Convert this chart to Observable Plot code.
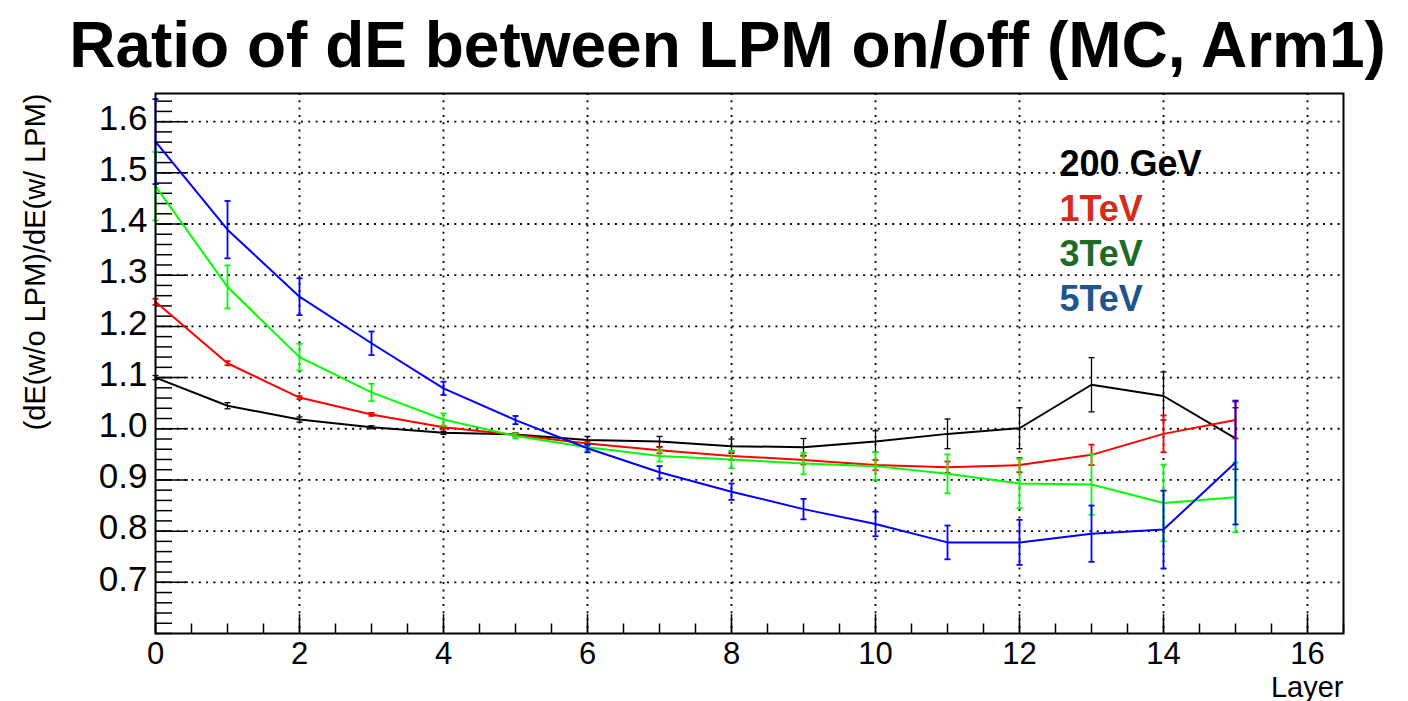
<!DOCTYPE html>
<html><head><meta charset="utf-8">
<script src="https://cdn.jsdelivr.net/npm/d3@7"></script>
<script src="https://cdn.jsdelivr.net/npm/@observablehq/plot@0.6"></script>
<style>
html,body{margin:0;padding:0;background:#fff;}
#chart svg{display:block;}
</style></head><body><div id="chart"></div>
<script>
// ---- data ----
const title = "Ratio of dE between LPM on/off (MC, Arm1)";
const yLabel = "(dE(w/o LPM)/dE(w/ LPM)";
const xLabel = "Layer";
const layers = [0,1,2,3,4,5,6,7,8,9,10,11,12,13,14,15];
const seriesNames = ["200 GeV","1TeV","3TeV","5TeV"];
const lineColors = ["#000000","#ff0000","#00ff00","#0000ff"];
const legendColors = ["#000000","#d42b1b","#1b6a25","#1d5591"];
const ratio200GeV = [1.100,1.045,1.018,1.003,0.992,0.989,0.978,0.975,0.966,0.964,0.975,0.990,1.001,1.086,1.064,0.981];
const err200GeV   = [0.004,0.006,0.005,0.003,0.003,0.003,0.007,0.010,0.014,0.017,0.021,0.029,0.040,0.053,0.047,0.060];
const ratio1TeV   = [1.248,1.128,1.061,1.028,1.003,0.988,0.971,0.958,0.947,0.939,0.929,0.925,0.929,0.949,0.990,1.017];
const err1TeV     = [0.006,0.004,0.003,0.003,0.003,0.003,0.004,0.006,0.008,0.009,0.010,0.011,0.014,0.020,0.036,0.036];
const ratio3TeV   = [1.474,1.277,1.140,1.071,1.018,0.986,0.964,0.947,0.940,0.932,0.927,0.912,0.893,0.891,0.855,0.866];
const err3TeV     = [0.067,0.042,0.026,0.017,0.012,0.005,0.006,0.011,0.017,0.021,0.027,0.038,0.048,0.059,0.075,0.068];
const ratio5TeV   = [1.561,1.389,1.258,1.167,1.079,1.017,0.962,0.915,0.877,0.843,0.814,0.778,0.778,0.795,0.803,0.934];
const err5TeV     = [0.083,0.056,0.036,0.023,0.013,0.008,0.008,0.012,0.016,0.020,0.024,0.033,0.044,0.055,0.076,0.121];
const xTicks = [0,2,4,6,8,10,12,14,16];
const yTicks = [0.7,0.8,0.9,1.0,1.1,1.2,1.3,1.4,1.5,1.6];
const xDomain = [0, 16.5];
const yDomain = [0.6, 1.655];

// ---- layout ----
const W = 1408, H = 701;
const mL = 155, mR = 65, mT = 93, mB = 68;
const frameW = W - mL - mR, frameH = H - mT - mB;
const font = "'Liberation Sans', Arial, Helvetica, sans-serif";

const ratios = [ratio200GeV, ratio1TeV, ratio3TeV, ratio5TeV];
const errs = [err200GeV, err1TeV, err3TeV, err5TeV];
const series = seriesNames.map((name, i) => layers.map((l, j) => ({
  name, layer: l, ratio: ratios[i][j], err: errs[i][j]
})));

const xMinor = d3.range(0, 16.5001, 0.5);
const yMinor = d3.range(0.6, 1.655, 0.02);

const capSymbol = {draw(ctx, size) { const r = Math.sqrt(size / Math.PI); ctx.moveTo(-r, 0); ctx.lineTo(r, 0); }};
const dotted = {stroke: "#000", strokeWidth: 1.8, strokeDasharray: "2,5.3"};

const seriesMarks = series.flatMap((data, i) => {
  const c = lineColors[i];
  const ew = i === 0 ? 1.3 : 1.8;
  return [
    Plot.line(data, {x: "layer", y: "ratio", stroke: c, strokeWidth: 2}),
    Plot.ruleX(data, {x: "layer", y1: d => d.ratio - d.err, y2: d => d.ratio + d.err, stroke: c, strokeWidth: ew}),
    Plot.dot(data, {x: "layer", y: d => d.ratio - d.err, symbol: capSymbol, r: 3, stroke: c, strokeWidth: ew}),
    Plot.dot(data, {x: "layer", y: d => d.ratio + d.err, symbol: capSymbol, r: 3, stroke: c, strokeWidth: ew})
  ];
});

const legendMarks = seriesNames.map((name, i) =>
  Plot.text([name], {text: d => d, frameAnchor: "top-left", dx: 904, dy: 82 + 45 * i,
    textAnchor: "start", lineAnchor: "bottom", fill: legendColors[i], fontSize: 36, fontWeight: "bold"}));

const chart = Plot.plot({
  width: W, height: H,
  marginLeft: mL, marginRight: mR, marginTop: mT, marginBottom: mB,
  style: {fontFamily: font, background: "#fff", color: "#000", overflow: "visible"},
  x: {domain: xDomain, axis: null},
  y: {domain: yDomain, axis: null},
  marks: [
    Plot.ruleX(xTicks.filter(d => d > 0), dotted),
    Plot.ruleY(yTicks, dotted),
    Plot.ruleY(yMinor, {stroke: "#000", strokeWidth: 1.5, insetRight: frameW - 17}),
    Plot.ruleY(yTicks, {stroke: "#000", strokeWidth: 1.5, insetRight: frameW - 33}),
    Plot.ruleX(xMinor, {stroke: "#000", strokeWidth: 1.5, insetTop: frameH - 9.5}),
    Plot.ruleX(xTicks, {stroke: "#000", strokeWidth: 1.5, insetTop: frameH - 19}),
    ...seriesMarks,
    Plot.frame({stroke: "#000", strokeWidth: 2}),
    Plot.axisX(xTicks, {tickSize: 0, tickPadding: 8, fontSize: 31, label: null, tickFormat: d => String(d)}),
    Plot.axisY(yTicks, {tickSize: 0, tickPadding: 8, fontSize: 35, label: null, dy: -3, tickFormat: d3.format(".1f")}),
    Plot.text([title], {text: d => d, frameAnchor: "top", dx: -22, dy: -27, lineAnchor: "bottom", fontSize: 64, fontWeight: "bold"}),
    Plot.text([xLabel], {text: d => d, frameAnchor: "bottom-right", dy: 63, textAnchor: "end", lineAnchor: "bottom", fontSize: 29}),
    Plot.text([yLabel], {text: d => d, frameAnchor: "top-left", dx: -120, rotate: -90, textAnchor: "end", lineAnchor: "middle", fontSize: 29}),
    ...legendMarks
  ]
});
document.getElementById("chart").appendChild(chart);
</script></body></html>
